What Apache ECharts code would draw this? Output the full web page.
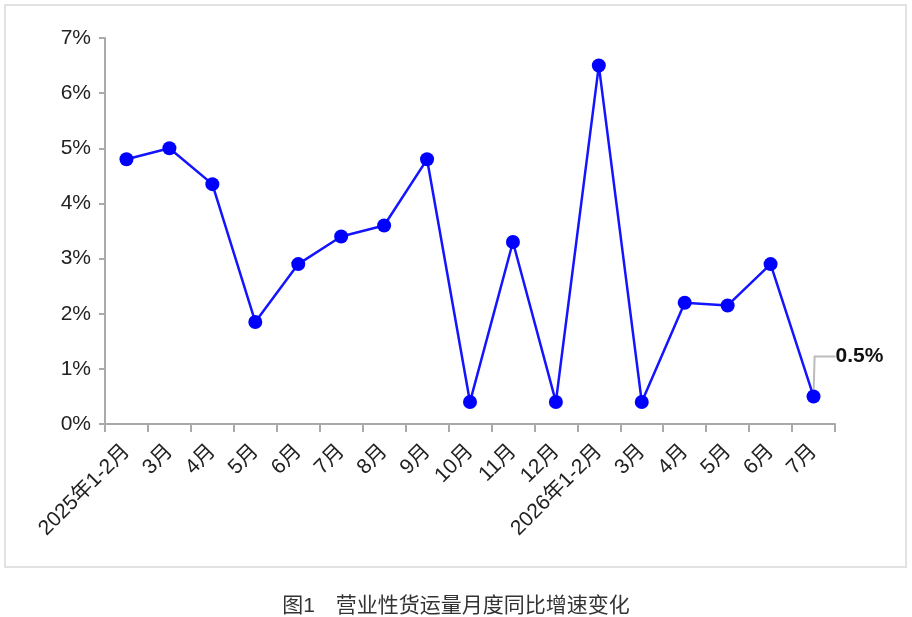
<!DOCTYPE html>
<html lang="zh">

<head>
    <meta charset="UTF-8">
    <script src="https://cdn.jsdelivr.net/npm/echarts@6/dist/echarts.min.js"></script>
    <title>营业性货运量月度同比增速变化</title>
    <style>
        html, body { margin: 0; padding: 0; background: #fff; }
        #chart { width: 912px; height: 617px; }
    </style>
</head>

<body>
    <div id="chart"></div>

    <script type="text/javascript">
        // 月份
        var months = ['2025年1-2月', '3月', '4月', '5月', '6月', '7月', '8月', '9月', '10月', '11月', '12月',
            '2026年1-2月', '3月', '4月', '5月', '6月', '7月'];
        // 同比增速 (%)
        var growth = [4.8, 5.0, 4.35, 1.85, 2.9, 3.4, 3.6, 4.8, 0.4, 3.3, 0.4, 6.5, 0.4, 2.2, 2.15, 2.9, 0.5];
        var yTicks = [0, 1, 2, 3, 4, 5, 6, 7];
        var caption = '图1\u3000营业性货运量月度同比增速变化';

        var font = '"Liberation Sans", Arial, "Noto Sans CJK SC", sans-serif';

        // 只给最后一个点加标注
        var seriesData = growth.map(function (v, i) {
            if (i === growth.length - 1) {
                return {
                    value: v,
                    label: {
                        show: true,
                        position: 'inside',
                        formatter: function (p) { return p.value + '%'; },
                        color: '#111',
                        fontSize: 21,
                        fontWeight: 'bold',
                        fontFamily: font
                    },
                    labelLine: {
                        show: true,
                        length2: 21,
                        lineStyle: { color: '#bbb', width: 2 }
                    }
                };
            }
            return v;
        });

        var chart = echarts.init(document.getElementById('chart'));
        var option = {
            animation: false,
            title: {
                text: caption,
                left: 'center',
                top: 591,
                textStyle: {
                    color: '#333',
                    fontSize: 21,
                    fontWeight: 'normal',
                    fontFamily: font
                }
            },
            graphic: [{
                type: 'rect',
                shape: { x: 5, y: 5, width: 901, height: 562 },
                style: { fill: 'none', stroke: '#e2e2e2', lineWidth: 2 },
                silent: true,
                z: -1
            }],
            grid: {
                left: 105,
                right: 77,
                top: 38,
                bottom: 193
            },
            xAxis: {
                type: 'category',
                data: months,
                boundaryGap: true,
                axisLine: { lineStyle: { color: '#aaa', width: 2 } },
                axisTick: { show: true, length: 8, lineStyle: { color: '#aaa', width: 2 } },
                axisLabel: {
                    interval: 0,
                    rotate: 45,
                    margin: 24,
                    color: '#222',
                    fontSize: 21,
                    fontFamily: font
                }
            },
            yAxis: {
                type: 'value',
                min: yTicks[0],
                max: yTicks[yTicks.length - 1],
                interval: 1,
                splitLine: { show: false },
                axisLine: { show: true, lineStyle: { color: '#aaa', width: 2 } },
                axisTick: { show: true, length: 6, lineStyle: { color: '#aaa', width: 2 } },
                axisLabel: {
                    margin: 14,
                    color: '#222',
                    fontSize: 21,
                    fontFamily: font,
                    formatter: '{value}%'
                }
            },
            series: [{
                type: 'line',
                data: seriesData,
                symbol: 'circle',
                symbolSize: 14,
                itemStyle: { color: '#0000ff' },
                lineStyle: { color: '#1414ff', width: 2.5 },
                labelLayout: function (p) {
                    if (p.dataIndex === growth.length - 1) {
                        return { dx: 46, dy: -40 };
                    }
                    return {};
                }
            }]
        };
        chart.setOption(option);
    </script>
</body>

</html>
